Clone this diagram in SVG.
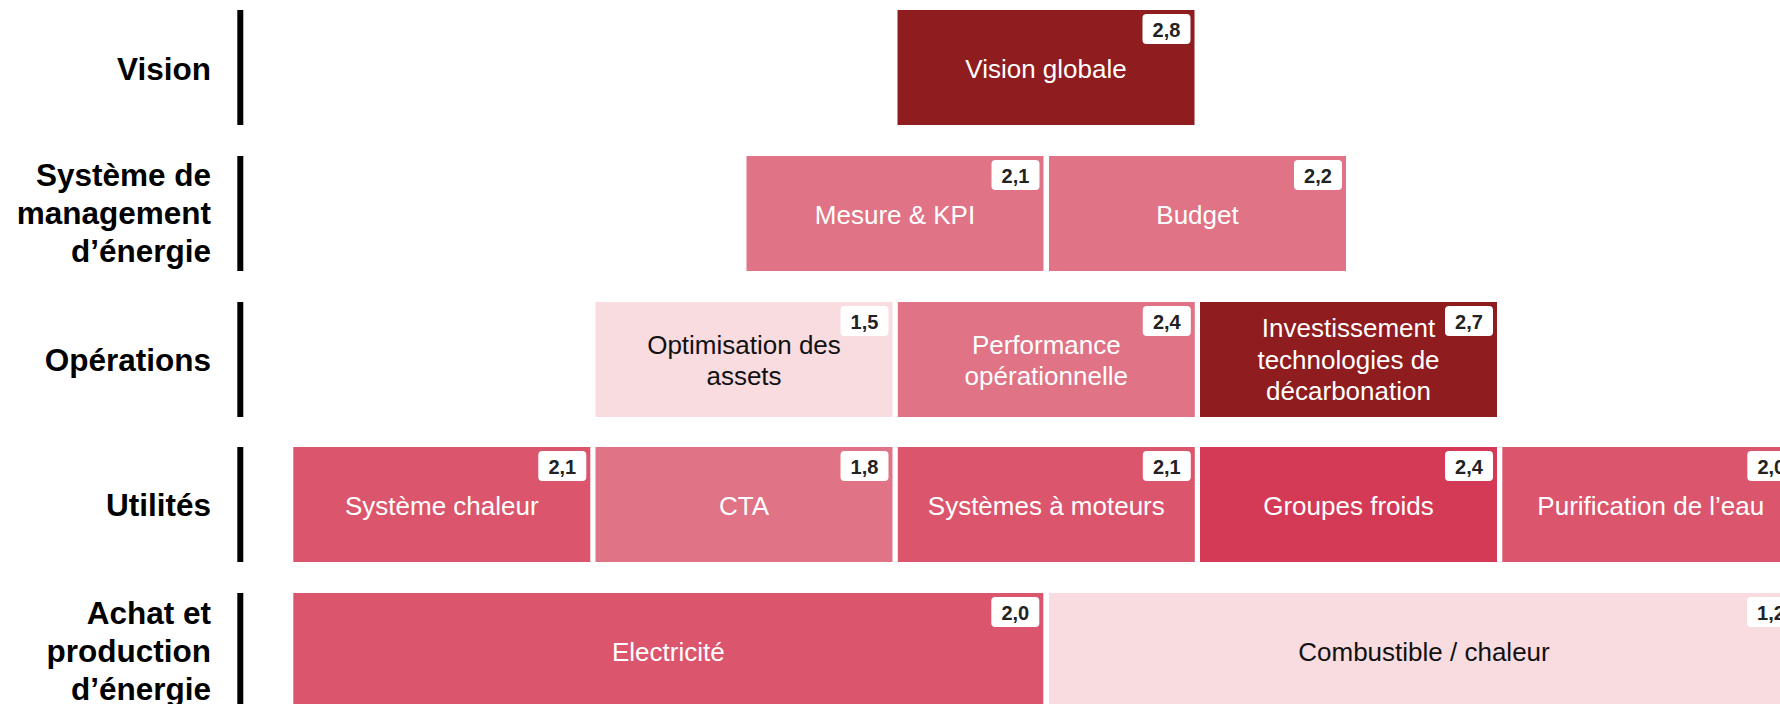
<svg xmlns="http://www.w3.org/2000/svg" width="1780" height="704" viewBox="0 0 1780 704">
<style>
  .rl{font-family:"Liberation Sans",Arial,sans-serif;font-weight:bold;font-size:31.5px;fill:#000;text-anchor:end}
  .bar{fill:#000}
  .bx{font-family:"Liberation Sans",Arial,sans-serif;font-size:26px;text-anchor:middle}
  .w{fill:#fff}
  .k{fill:#111}
  .dark{fill:#8F1C1E}
  .mid{fill:#E07385}
  .rose{fill:#DB566D}
  .red{fill:#D43A55}
  .light{fill:#F8DCE0}
  .bdg{fill:#fff}
  .bt{font-family:"Liberation Sans",Arial,sans-serif;font-weight:bold;font-size:20px;fill:#222;text-anchor:middle}
</style>
<rect width="1780" height="704" fill="#fff"/>

<g id="row-labels">
  <g id="lbl-vision"><rect class="bar" x="237.3" y="10" width="6" height="115"/><text class="rl" x="211" y="80">Vision</text></g>
  <g id="lbl-sme"><rect class="bar" x="237.3" y="156" width="6" height="115"/><text class="rl" x="211" y="186">Système de</text><text class="rl" x="211" y="224">management</text><text class="rl" x="211" y="262">d’énergie</text></g>
  <g id="lbl-ops"><rect class="bar" x="237.3" y="302" width="6" height="115"/><text class="rl" x="211" y="370.5">Opérations</text></g>
  <g id="lbl-util"><rect class="bar" x="237.3" y="447" width="6" height="115"/><text class="rl" x="211" y="515.5">Utilités</text></g>
  <g id="lbl-achat"><rect class="bar" x="237.3" y="593" width="6" height="115"/><text class="rl" x="211" y="624">Achat et</text><text class="rl" x="211" y="662">production</text><text class="rl" x="211" y="700">d’énergie</text></g>
</g>

<g id="n-vision-globale">
  <rect class="dark" x="897.5" y="10" width="297" height="115"/>
  <text class="bx w" x="1046" y="78">Vision globale</text>
  <rect class="bdg" x="1142.5" y="14" width="48" height="30" rx="4"/><text class="bt" x="1166.5" y="37">2,8</text>
</g>

<g id="n-mesure">
  <rect class="mid" x="746.5" y="156" width="297" height="115"/>
  <text class="bx w" x="895" y="224">Mesure &amp; KPI</text>
  <rect class="bdg" x="991.5" y="160" width="48" height="30" rx="4"/><text class="bt" x="1015.5" y="183">2,1</text>
</g>
<g id="n-budget">
  <rect class="mid" x="1049" y="156" width="297" height="115"/>
  <text class="bx w" x="1197.5" y="224">Budget</text>
  <rect class="bdg" x="1294" y="160" width="48" height="30" rx="4"/><text class="bt" x="1318" y="183">2,2</text>
</g>

<g id="n-optimisation">
  <rect class="light" x="595.5" y="302" width="297" height="115"/>
  <text class="bx k" x="744" y="353.5">Optimisation des</text>
  <text class="bx k" x="744" y="385">assets</text>
  <rect class="bdg" x="840.5" y="306" width="48" height="30" rx="4"/><text class="bt" x="864.5" y="329">1,5</text>
</g>
<g id="n-performance">
  <rect class="mid" x="897.8" y="302" width="297" height="115"/>
  <text class="bx w" x="1046.3" y="353.5">Performance</text>
  <text class="bx w" x="1046.3" y="385">opérationnelle</text>
  <rect class="bdg" x="1142.8" y="306" width="48" height="30" rx="4"/><text class="bt" x="1166.8" y="329">2,4</text>
</g>
<g id="n-investissement">
  <rect class="dark" x="1200" y="302" width="297" height="115"/>
  <text class="bx w" x="1348.5" y="337">Investissement</text>
  <text class="bx w" x="1348.5" y="368.5">technologies de</text>
  <text class="bx w" x="1348.5" y="400">décarbonation</text>
  <rect class="bdg" x="1445" y="306" width="48" height="30" rx="4"/><text class="bt" x="1469" y="329">2,7</text>
</g>

<g id="n-systeme-chaleur">
  <rect class="rose" x="293.3" y="447" width="297" height="115"/>
  <text class="bx w" x="441.8" y="515">Système chaleur</text>
  <rect class="bdg" x="538.3" y="451" width="48" height="30" rx="4"/><text class="bt" x="562.3" y="474">2,1</text>
</g>
<g id="n-cta">
  <rect class="mid" x="595.5" y="447" width="297" height="115"/>
  <text class="bx w" x="744" y="515">CTA</text>
  <rect class="bdg" x="840.5" y="451" width="48" height="30" rx="4"/><text class="bt" x="864.5" y="474">1,8</text>
</g>
<g id="n-moteurs">
  <rect class="rose" x="897.8" y="447" width="297" height="115"/>
  <text class="bx w" x="1046.3" y="515">Systèmes à moteurs</text>
  <rect class="bdg" x="1142.8" y="451" width="48" height="30" rx="4"/><text class="bt" x="1166.8" y="474">2,1</text>
</g>
<g id="n-groupes-froids">
  <rect class="red" x="1200" y="447" width="297" height="115"/>
  <text class="bx w" x="1348.5" y="515">Groupes froids</text>
  <rect class="bdg" x="1445" y="451" width="48" height="30" rx="4"/><text class="bt" x="1469" y="474">2,4</text>
</g>
<g id="n-purification">
  <rect class="rose" x="1502.3" y="447" width="297" height="115"/>
  <text class="bx w" x="1650.8" y="515">Purification de l’eau</text>
  <rect class="bdg" x="1747.3" y="451" width="48" height="30" rx="4"/><text class="bt" x="1771.3" y="474">2,0</text>
</g>

<g id="n-electricite">
  <rect class="rose" x="293.3" y="593" width="750" height="115"/>
  <text class="bx w" x="668.3" y="661">Electricité</text>
  <rect class="bdg" x="991.3" y="597" width="48" height="30" rx="4"/><text class="bt" x="1015.3" y="620">2,0</text>
</g>
<g id="n-combustible">
  <rect class="light" x="1049" y="593" width="750" height="115"/>
  <text class="bx k" x="1424" y="661">Combustible / chaleur</text>
  <rect class="bdg" x="1747" y="597" width="48" height="30" rx="4"/><text class="bt" x="1771" y="620">1,2</text>
</g>

<g id="connectors"></g>
</svg>
